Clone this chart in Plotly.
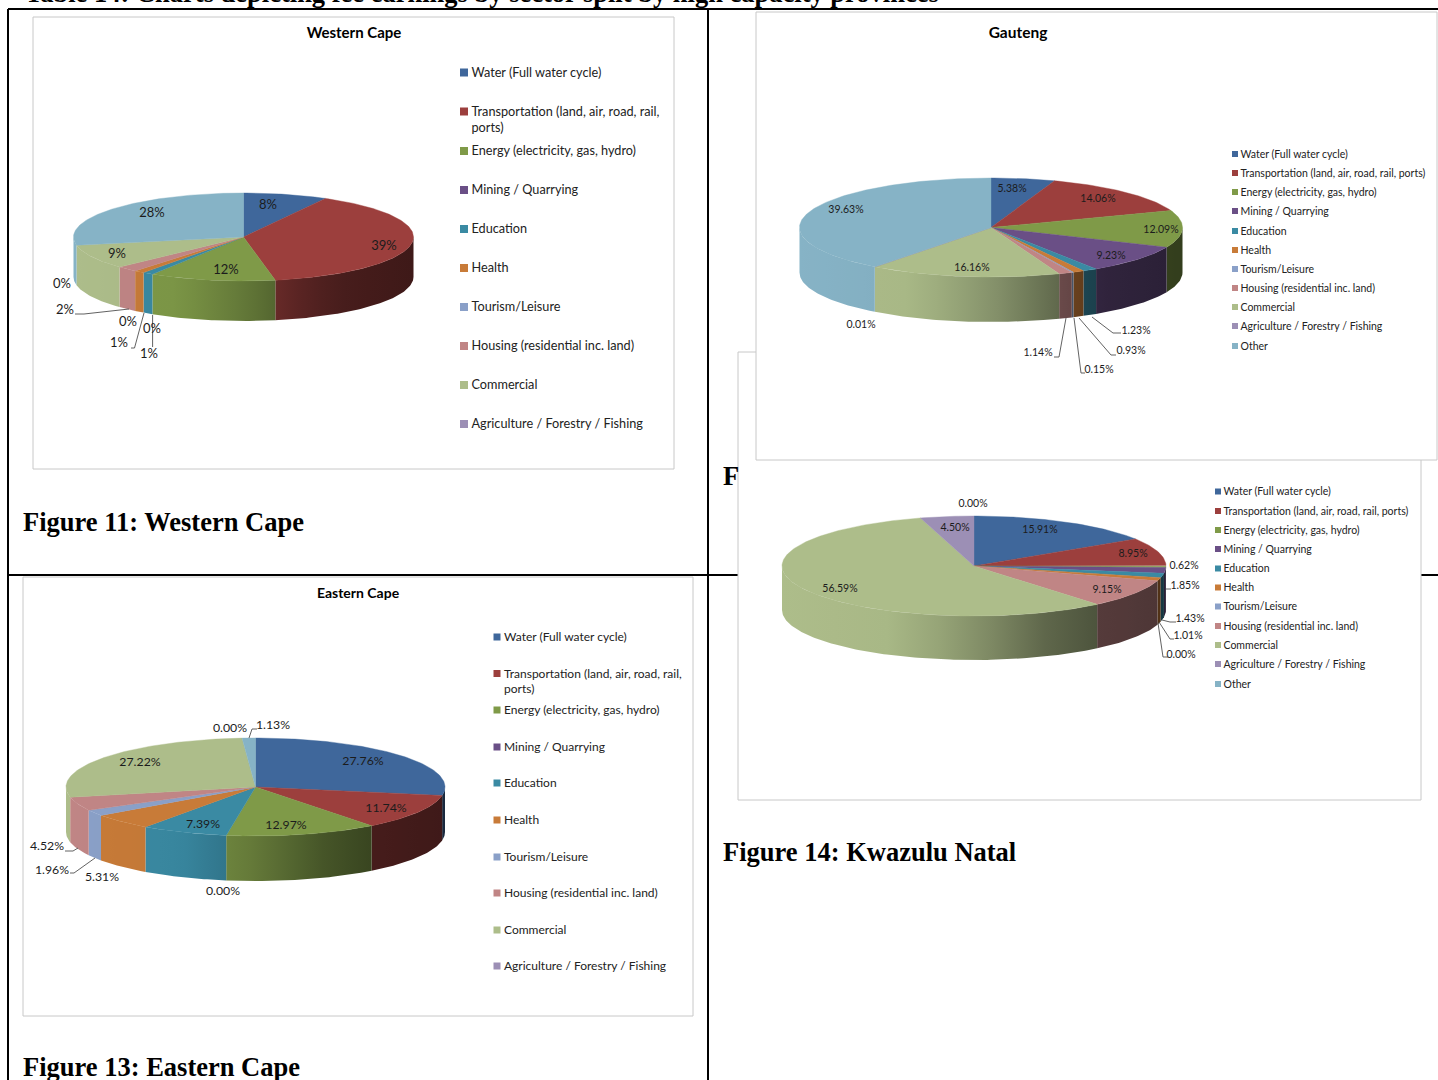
import numpy as np
import plotly.graph_objects as go

# Sector names in legend order
SECTORS = ["Water (Full water cycle)", "Transportation (land, air, road, rail, ports)",
           "Energy (electricity, gas, hydro)", "Mining / Quarrying", "Education", "Health",
           "Tourism/Leisure", "Housing (residential inc. land)", "Commercial",
           "Agriculture / Forestry / Fishing", "Other"]

# Share of fee earnings per sector, in percent
WESTERN_CAPE = [8, 39, 12, 0, 1, 1, 0, 2, 9, 0, 28]
GAUTENG = [5.38, 14.06, 12.09, 9.23, 1.23, 0.93, 0.15, 1.14, 16.16, 0.01, 39.63]
KWAZULU_NATAL = [15.91, 8.95, 0.62, 1.85, 1.43, 1.01, 0.00, 9.15, 56.59, 4.50, 0.00]
EASTERN_CAPE = [27.76, 11.74, 12.97, 0.00, 7.39, 5.31, 1.96, 4.52, 27.22, 0.00, 1.13]

COLORS = [(63, 103, 155), (156, 63, 61), (127, 154, 72), (106, 79, 134), (58, 138, 163),
          (200, 123, 56), (138, 160, 200), (192, 133, 133), (173, 189, 138), (156, 143, 181),
          (134, 179, 198)]

FONT = "Lato"
SERIF = "Liberation Serif"
INK = "#1c1c1c"

# Side-wall shading across the pie width: position, brightness
SHADE_POS = [0.0, 0.3, 0.5, 0.68, 0.8, 1.0]
SHADE_VAL = [1.0, 0.97, 0.78, 0.55, 0.45, 0.40]

# Layout of each panel
PANELS = [
    dict(values=WESTERN_CAPE, decimals=0, cx=243.5, cy=237, rx=170, ry=44, depth=40,
         title="Western Cape", title_xy=(354, 33), title_size=15,
         label_xy=[(268, 205), (384, 246), (226, 270), (152, 329), (149, 354), (119, 343),
                   (128, 322), (65, 310), (117, 254), (62, 284), (152, 213)],
         label_size=13,
         leaders=[[(75, 314), (84, 314), (129, 309)],
                  [(131, 348), (134.5, 348), (144, 313)],
                  [(152.6, 347), (152.6, 315)]],
         legend_x=464, legend_size=12.7, swatch=8, legend_gap=3.5,
         legend_y=[72.5, 111.5, 151, 190, 229, 268, 307, 346, 385, 424],
         wrap_y=128, wrap=True, legend_count=10),
    dict(values=GAUTENG, decimals=2, cx=991, cy=227.5, rx=191.5, ry=49.5, depth=45,
         title="Gauteng", title_xy=(1018, 33), title_size=15.5,
         label_xy=[(1012, 188), (1098, 198), (1161, 229), (1111, 255), (1136, 330), (1131, 350),
                   (1099, 369), (1038, 352), (972, 267), (861, 324), (846, 209)],
         label_size=10.5,
         leaders=[[(1092, 317), (1113, 333), (1121, 333)],
                  [(1079, 318), (1111, 355), (1116, 355)],
                  [(1074, 318), (1081, 373), (1085, 373)],
                  [(1066, 318), (1059, 357), (1054, 357)]],
         legend_x=1235, legend_size=10.5, swatch=6, legend_gap=2.5,
         legend_y=[154, 173, 192, 211, 231, 250, 269, 288, 307, 326, 346],
         wrap=False, legend_count=11),
    dict(values=KWAZULU_NATAL, decimals=2, cx=974, cy=566, rx=192, ry=50, depth=44,
         title=None,
         label_xy=[(1040, 529), (1133, 553), (1184, 565), (1185, 585), (1190, 618), (1188, 635),
                   (1181, 654), (1107, 589), (840, 588), (955, 527), (973, 503)],
         label_size=10.5,
         leaders=[[(1166, 589), (1171, 589)],
                  [(1162, 620), (1170, 622), (1176, 622)],
                  [(1159, 622), (1170, 639), (1174, 639)],
                  [(1158, 623), (1163, 657), (1168, 657)]],
         legend_x=1218, legend_size=10.5, swatch=6, legend_gap=2.5,
         legend_y=[491.5, 511, 530, 549, 568.5, 587.5, 606.5, 626, 645, 664, 684],
         wrap=False, legend_count=11),
    dict(values=EASTERN_CAPE, decimals=2, cx=255.5, cy=787, rx=189.5, ry=49, depth=45,
         title="Eastern Cape", title_xy=(358, 593), title_size=14,
         label_xy=[(363, 761), (386, 808), (286, 825), (223, 891), (203, 824), (102, 877),
                   (52, 870), (47, 846), (140, 762), (230, 728), (273, 725)],
         label_size=12.3,
         leaders=[[(65, 851), (73, 851), (78, 848)],
                  [(70, 873), (74, 873), (95, 858)],
                  [(257, 729), (252, 729), (249, 738)]],
         legend_x=497, legend_size=12, swatch=7, legend_gap=3.5,
         legend_y=[637, 673.5, 710, 747, 783, 820, 857, 893, 930, 966],
         wrap_y=689, wrap=True, legend_count=10),
]

# White chart boxes, back to front
BOXES = [(738, 352, 1421, 800), (33, 17, 674, 469), (23, 577, 693, 1016), (756, 12, 1437, 460)]
# Table rules of the surrounding document
RULES = [(8, 9, 1438, 9), (8, 9, 8, 1080), (708, 9, 708, 1080), (8, 575, 1438, 575)]
# Document text
DOC_TEXT = [("<b>Table 14: Charts depicting fee earnings by sector split by high capacity provinces</b>", 25, -5.5, 26.5),
            ("<b>Figure 11: Western Cape</b>", 23, 523, 26.5),
            ("<b>Figure 13: Eastern Cape</b>", 23, 1068.5, 26.5),
            ("<b>Figure 14: Kwazulu Natal</b>", 723, 853, 26.5),
            ("<b>F</b>", 723, 477, 26.5)]


def rgb(c, f=1.0):
    return "rgb(%d,%d,%d)" % tuple(round(v * f) for v in c)


def arc(p, t0, t1):
    n = max(2, int(abs(t1 - t0) * 180 / np.pi) + 2)
    t = np.linspace(t0, t1, n)
    return p["cx"] + p["rx"] * np.sin(t), p["cy"] - p["ry"] * np.cos(t)


def add_text(fig, x, y, text, size, position="middle center", family=FONT, color=INK):
    # Text sits one pixel lower than the middle anchor would put it
    fig.add_trace(go.Scatter(x=list(x), y=[v + 1 for v in y], text=list(text), mode="text",
                             textposition=position, hoverinfo="skip", showlegend=False,
                             textfont=dict(family=family, size=size, color=color)))


def add_panel(fig, p):
    values = np.array(p["values"], dtype=float)
    edges = np.concatenate([[0], np.cumsum(values)]) / values.sum() * 2 * np.pi

    # Front wall: only the part of each slice between 90 and 270 degrees shows
    for i, c in enumerate(COLORS):
        t0, t1 = max(edges[i], np.pi / 2), min(edges[i + 1], 3 * np.pi / 2)
        if t1 - t0 < 1e-4:
            continue
        ax, ay = arc(p, t0, t1)
        x = np.concatenate([ax, ax[::-1]])
        y = np.concatenate([ay, ay[::-1] + p["depth"]])
        x0, x1 = x.min(), x.max()
        if x1 - x0 < 0.5:
            continue
        left = p["cx"] - p["rx"]
        stops = np.linspace(0, 1, 7)
        px = x0 + stops * (x1 - x0)
        shade = np.interp((px - left) / (2 * p["rx"]), SHADE_POS, SHADE_VAL)
        scale = [[float(s), rgb(c, float(f))] for s, f in zip(stops, shade)]
        fig.add_trace(go.Scatter(x=x, y=y, mode="lines", fill="toself",
                                 line=dict(width=0, color=rgb(c)), hoverinfo="skip",
                                 showlegend=False,
                                 fillgradient=dict(type="horizontal", colorscale=scale,
                                                   start=float(x0), stop=float(x1))))

    # Top face
    for i, c in enumerate(COLORS):
        if edges[i + 1] - edges[i] < 1e-5:
            continue
        ax, ay = arc(p, edges[i], edges[i + 1])
        fig.add_trace(go.Scatter(x=np.concatenate([[p["cx"]], ax, [p["cx"]]]),
                                 y=np.concatenate([[p["cy"]], ay, [p["cy"]]]),
                                 mode="lines", fill="toself", fillcolor=rgb(c),
                                 line=dict(width=0.4, color=rgb(c)), hoverinfo="skip",
                                 showlegend=False))

    # Value labels and their leader lines
    for leader in p["leaders"]:
        fig.add_trace(go.Scatter(x=[q[0] for q in leader], y=[q[1] for q in leader], mode="lines",
                                 line=dict(width=0.9, color="#505050"), hoverinfo="skip",
                                 showlegend=False))
    fmt = "%%.%df%%%%" % p["decimals"]
    add_text(fig, [q[0] for q in p["label_xy"]], [q[1] for q in p["label_xy"]],
             [fmt % v for v in p["values"]], p["label_size"])

    # Legend
    n = p["legend_count"]
    fig.add_trace(go.Scatter(x=[p["legend_x"]] * n, y=p["legend_y"], mode="markers",
                             marker=dict(symbol="square", size=p["swatch"],
                                         color=[rgb(c) for c in COLORS[:n]], line=dict(width=0)),
                             hoverinfo="skip", showlegend=False))
    tx = p["legend_x"] + p["swatch"] / 2 + p["legend_gap"]
    names, ys = list(SECTORS[:n]), list(p["legend_y"])
    if p["wrap"]:
        names[1] = "Transportation (land, air, road, rail,"
        names.append("ports)")
        ys.append(p["wrap_y"])
    add_text(fig, [tx] * len(names), ys, names, p["legend_size"], "middle right", color="#222222")

    if p["title"]:
        add_text(fig, [p["title_xy"][0]], [p["title_xy"][1]], ["<b>%s</b>" % p["title"]], p["title_size"],
                 color="#000000")


fig = go.Figure()
for panel in PANELS:
    add_panel(fig, panel)
for text, x, y, size in DOC_TEXT:
    add_text(fig, [x], [y], [text], size, "middle right", SERIF, "#000000")

shapes = []
for x0, y0, x1, y1 in RULES:
    shapes.append(dict(type="line", x0=x0, y0=y0, x1=x1, y1=y1, layer="below",
                       line=dict(color="#000000", width=2)))
for x0, y0, x1, y1 in BOXES:
    shapes.append(dict(type="rect", x0=x0, y0=y0, x1=x1, y1=y1, layer="below",
                       fillcolor="#ffffff", line=dict(color="#c8c8c8", width=1)))

fig.update_layout(width=1438, height=1080, margin=dict(l=0, r=0, t=0, b=0),
                  paper_bgcolor="#ffffff", plot_bgcolor="#ffffff", showlegend=False, shapes=shapes,
                  xaxis=dict(range=[0, 1438], visible=False, fixedrange=True),
                  yaxis=dict(range=[1080, 0], visible=False, fixedrange=True))
fig.write_html("out.html")
